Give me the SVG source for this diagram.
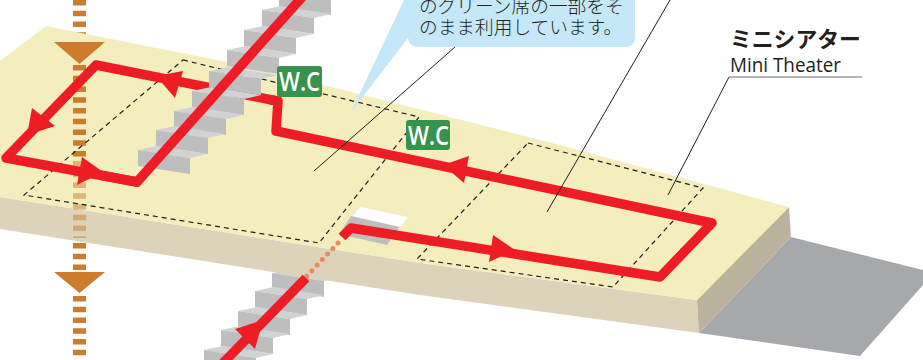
<svg xmlns="http://www.w3.org/2000/svg" xmlns:xlink="http://www.w3.org/1999/xlink" width="923" height="360" viewBox="0 0 923 360">
<style>
.red{fill:none;stroke:#ee1c25;stroke-width:9.5;stroke-linejoin:round;stroke-linecap:round}
.arrow{fill:#ee1c25}
.dash{fill:none;stroke:#231f20;stroke-width:1.2;stroke-dasharray:5 4}
.lead{fill:none;stroke:#231f20;stroke-width:1}
.ob{stroke:#cc7c2c;stroke-width:13;stroke-dasharray:5.4 5.35;fill:none}
.otri{fill:#cc7c2c}
.wc{fill:#36924c}
.wct{font-family:"Open Sans","Liberation Sans",sans-serif;font-weight:600;font-size:27px;fill:#fff}
.jp{font-family:"Noto Sans CJK JP",sans-serif;fill:#231f20}
</style>
<defs>
<g id="step"><path d="M0 0L19-4 69 4 52 8Z" fill="#d1d2d3"/><path d="M0 0L52 8V24L0 16Z" fill="#bebebe"/></g>
</defs>
<g id="shadow"><path d="M791 237L923 270V285L860 356 699 333Z" fill="#a7a8ac"/></g>
<g id="lower-stairs">
<use xlink:href="#step" x="272" y="273"/><use xlink:href="#step" x="255" y="291"/><use xlink:href="#step" x="238" y="311"/><use xlink:href="#step" x="221" y="330"/><use xlink:href="#step" x="204" y="350"/>
</g>
<g id="orange-outer">
<line class="ob" x1="79.5" y1="0" x2="79.5" y2="40"/>
<line class="ob" x1="79.5" y1="243" x2="79.5" y2="270"/>
<line class="ob" x1="79.5" y1="296" x2="79.5" y2="360"/>
</g>
<g id="floor">
<path d="M0 197L420 263 697 300 699 333 420 295 0 229Z" fill="#ddd3bb"/>
<path d="M697 300L789 207 791 237 699 333Z" fill="#bcb39f"/>
<path d="M0 61L46 26 227 62 323 85 560 145 789 207 697 300 420 263 0 197Z" fill="#f4edbd"/>
<path d="M360 207L408 217 398 231 349 221Z" fill="#fff"/>
<path d="M351 216L400 227 387 245 339 234Z" fill="#bebebe"/>
</g>
<g id="orange-on-floor">
<line class="ob" x1="79.5" y1="65" x2="79.5" y2="157"/>
<line class="ob" x1="79.5" y1="161" x2="79.5" y2="238" opacity=".5"/>
<path class="otri" d="M54 42H105L79.5 64Z"/>
<path class="otri" d="M54 272H105L79.5 293Z"/>
</g>
<g id="rooms">
<path class="dash" d="M183 60L419 117 319 243 24 195Z"/>
<path class="dash" d="M528 143L703 188 613 287 417 259Z"/>
</g>
<g id="connectors">
<path class="red" d="M277 101L96 65 6 158 137 182"/>
<path class="red" style="stroke-linecap:butt" d="M270 99.700L278 101 276 131 712 223 660 277 351 228 342 237"/>
<path d="M338 243L305 278" fill="none" stroke="#ea8a60" stroke-width="5" stroke-linecap="round" stroke-dasharray="0 7.6"/>
</g>
<g id="upper-stairs">
<use xlink:href="#step" x="279" y="-9"/><use xlink:href="#step" x="262" y="10"/><use xlink:href="#step" x="244" y="30"/><use xlink:href="#step" x="227" y="50"/><use xlink:href="#step" x="209" y="71"/><use xlink:href="#step" x="192" y="91"/><use xlink:href="#step" x="174" y="111"/><use xlink:href="#step" x="156" y="130"/><use xlink:href="#step" x="138" y="150"/>
</g>
<g id="connectors-top">
<path class="red" style="stroke-linecap:butt" d="M304 -5L137 182 100 175"/>
<path class="red" style="stroke-linecap:butt" d="M306 278L222 364"/>
<path class="arrow" d="M183 71L175 98 156 76Z"/>
<path class="arrow" d="M32 108L55 126 27 135Z"/>
<path class="arrow" d="M82 157L103 172 77 185Z"/>
<path class="arrow" d="M469 156L464 183 443 165Z"/>
<path class="arrow" d="M493 235L515 250 489 262Z"/>
<path class="arrow" d="M235 329L263 320 255 349Z"/>
</g>
<g id="leaders">
<path class="lead" d="M455 47L314 171"/>
<path class="lead" d="M670 0L547 212"/>
<path class="lead" d="M729 77L668 195"/>
<path d="M729 77H862" fill="none" stroke="#6d6e71" stroke-width="1"/>
</g>
<g id="callout">
<path d="M351 112L404 0H635V37Q635 47 625 47H419Q409 47 408 38Z" fill="#c5e8f9"/>
<text class="jp" x="419" y="13" font-size="18.700" font-weight="300">のグリーン席の一部をそ</text>
<text class="jp" x="419" y="34" font-size="18.700" font-weight="300">のまま利用しています。</text>
</g>
<g id="wc1"><rect class="wc" x="277" y="66" width="45" height="31" rx="3"/><text class="wct" x="279" y="91" textLength="41" lengthAdjust="spacingAndGlyphs">W.C</text></g>
<g id="wc2"><rect class="wc" x="406" y="120" width="44" height="30" rx="3"/><text class="wct" x="408" y="145" textLength="41" lengthAdjust="spacingAndGlyphs">W.C</text></g>
<g id="label-mini-theater">
<text class="jp" x="730" y="47" font-size="21.800" font-weight="700">ミニシアター</text>
<text x="730" y="72" font-family="'Open Sans','Liberation Sans',sans-serif" font-weight="400" font-size="20" fill="#231f20" textLength="111" lengthAdjust="spacingAndGlyphs">Mini Theater</text>
</g>
</svg>
